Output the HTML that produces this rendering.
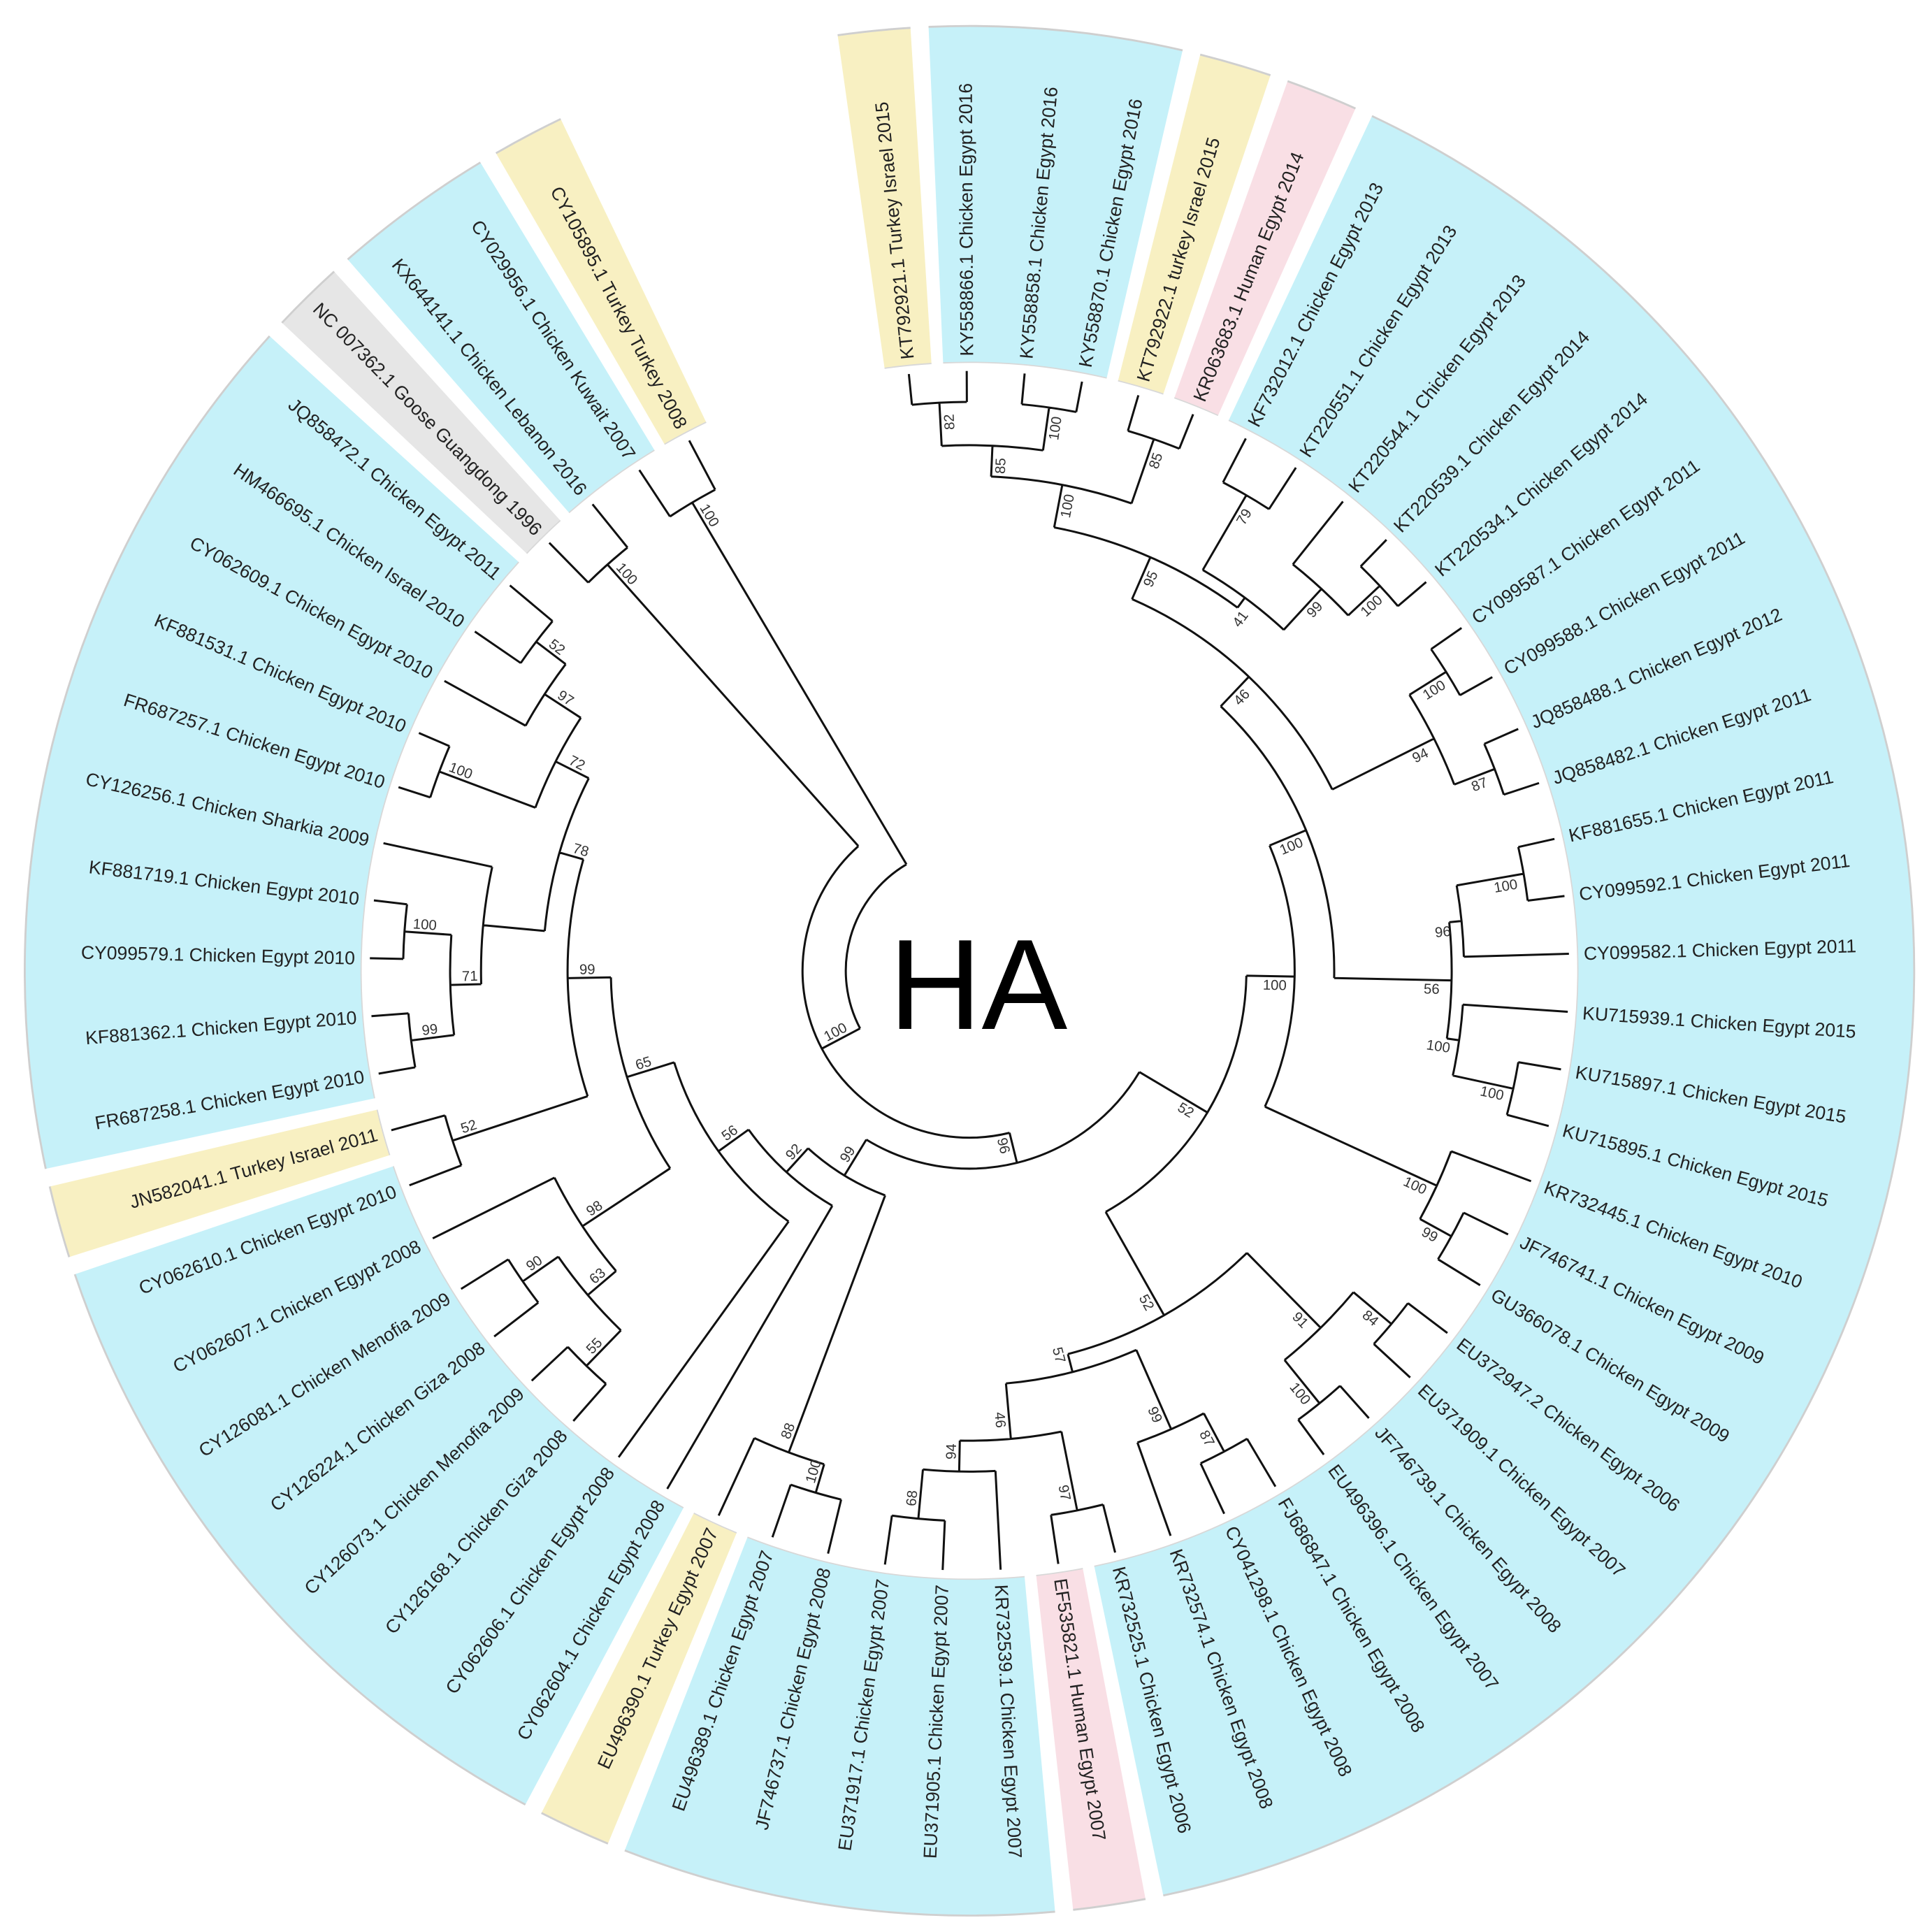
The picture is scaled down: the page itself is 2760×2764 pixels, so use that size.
<!DOCTYPE html>
<html><head><meta charset="utf-8"><style>
html,body{margin:0;padding:0;background:#fff;}
svg{display:block;}
.lf{font-family:"Liberation Sans",Arial,sans-serif;font-size:15px;fill:#222;}
.bs{font-family:"Liberation Sans",Arial,sans-serif;font-size:11.5px;fill:#333;}
.ha{font-family:"Liberation Sans",Arial,sans-serif;font-size:104px;fill:#000;}
</style></head><body>
<svg id="s" xmlns="http://www.w3.org/2000/svg" width="2760" height="2764" viewBox="0 0 1560 1562.3">
<rect x="0" y="0" width="1560" height="1562.3" fill="#fff"/>
<g id="bands"></g>
<path id="tree" fill="none" stroke="#111" stroke-width="1.7" d=""/>
<text class="ha" x="791" y="832" text-anchor="middle">HA</text>
<g id="leaves">
<text class="lf" id="l1">KT792921.1 Turkey Israel 2015</text>
<text class="lf" id="l2">KY558866.1 Chicken Egypt 2016</text>
<text class="lf" id="l3">KY558858.1 Chicken Egypt 2016</text>
<text class="lf" id="l4">KY558870.1 Chicken Egypt 2016</text>
<text class="lf" id="l5">KT792922.1 turkey Israel 2015</text>
<text class="lf" id="l6">KR063683.1 Human Egypt 2014</text>
<text class="lf" id="l7">KF732012.1 Chicken Egypt 2013</text>
<text class="lf" id="l8">KT220551.1 Chicken Egypt 2013</text>
<text class="lf" id="l9">KT220544.1 Chicken Egypt 2013</text>
<text class="lf" id="l10">KT220539.1 Chicken Egypt 2014</text>
<text class="lf" id="l11">KT220534.1 Chicken Egypt 2014</text>
<text class="lf" id="l12">CY099587.1 Chicken Egypt 2011</text>
<text class="lf" id="l13">CY099588.1 Chicken Egypt 2011</text>
<text class="lf" id="l14">JQ858488.1 Chicken Egypt 2012</text>
<text class="lf" id="l15">JQ858482.1 Chicken Egypt 2011</text>
<text class="lf" id="l16">KF881655.1 Chicken Egypt 2011</text>
<text class="lf" id="l17">CY099592.1 Chicken Egypt 2011</text>
<text class="lf" id="l18">CY099582.1 Chicken Egypt 2011</text>
<text class="lf" id="l19">KU715939.1 Chicken Egypt 2015</text>
<text class="lf" id="l20">KU715897.1 Chicken Egypt 2015</text>
<text class="lf" id="l21">KU715895.1 Chicken Egypt 2015</text>
<text class="lf" id="l22">KR732445.1 Chicken Egypt 2010</text>
<text class="lf" id="l23">JF746741.1 Chicken Egypt 2009</text>
<text class="lf" id="l24">GU366078.1 Chicken Egypt 2009</text>
<text class="lf" id="l25">EU372947.2 Chicken Egypt 2006</text>
<text class="lf" id="l26">EU371909.1 Chicken Egypt 2007</text>
<text class="lf" id="l27">JF746739.1 Chicken Egypt 2008</text>
<text class="lf" id="l28">EU496396.1 Chicken Egypt 2007</text>
<text class="lf" id="l29">FJ686847.1 Chicken Egypt 2008</text>
<text class="lf" id="l30">CY041298.1 Chicken Egypt 2008</text>
<text class="lf" id="l31">KR732574.1 Chicken Egypt 2008</text>
<text class="lf" id="l32">KR732525.1 Chicken Egypt 2006</text>
<text class="lf" id="l33">EF535821.1 Human Egypt 2007</text>
<text class="lf" id="l34">KR732539.1 Chicken Egypt 2007</text>
<text class="lf" id="l35">EU371905.1 Chicken Egypt 2007</text>
<text class="lf" id="l36">EU371917.1 Chicken Egypt 2007</text>
<text class="lf" id="l37">JF746737.1 Chicken Egypt 2008</text>
<text class="lf" id="l38">EU496389.1 Chicken Egypt 2007</text>
<text class="lf" id="l39">EU496390.1 Turkey Egypt 2007</text>
<text class="lf" id="l40">CY062604.1 Chicken Egypt 2008</text>
<text class="lf" id="l41">CY062606.1 Chicken Egypt 2008</text>
<text class="lf" id="l42">CY126168.1 Chicken Giza 2008</text>
<text class="lf" id="l43">CY126073.1 Chicken Menofia 2009</text>
<text class="lf" id="l44">CY126224.1 Chicken Giza 2008</text>
<text class="lf" id="l45">CY126081.1 Chicken Menofia 2009</text>
<text class="lf" id="l46">CY062607.1 Chicken Egypt 2008</text>
<text class="lf" id="l47">CY062610.1 Chicken Egypt 2010</text>
<text class="lf" id="l48">JN582041.1 Turkey Israel 2011</text>
<text class="lf" id="l49">FR687258.1 Chicken Egypt 2010</text>
<text class="lf" id="l50">KF881362.1 Chicken Egypt 2010</text>
<text class="lf" id="l51">CY099579.1 Chicken Egypt 2010</text>
<text class="lf" id="l52">KF881719.1 Chicken Egypt 2010</text>
<text class="lf" id="l53">CY126256.1 Chicken Sharkia 2009</text>
<text class="lf" id="l54">FR687257.1 Chicken Egypt 2010</text>
<text class="lf" id="l55">KF881531.1 Chicken Egypt 2010</text>
<text class="lf" id="l56">CY062609.1 Chicken Egypt 2010</text>
<text class="lf" id="l57">HM466695.1 Chicken Israel 2010</text>
<text class="lf" id="l58">JQ858472.1 Chicken Egypt 2011</text>
<text class="lf" id="l59">NC 007362.1 Goose Guangdong 1996</text>
<text class="lf" id="l60">KX644141.1 Chicken Lebanon 2016</text>
<text class="lf" id="l61">CY029956.1 Chicken Kuwait 2007</text>
<text class="lf" id="l62">CY105895.1 Turkey Turkey 2008</text>
</g>
<g id="boots">
<text class="bs" id="b1">100</text><text class="bs" id="b2">100</text><text class="bs" id="b3">100</text>
<text class="bs" id="b4">96</text><text class="bs" id="b5">99</text><text class="bs" id="b6">88</text>
<text class="bs" id="b7">100</text><text class="bs" id="b8">92</text><text class="bs" id="b9">56</text>
<text class="bs" id="b10">65</text><text class="bs" id="b11">98</text><text class="bs" id="b12">63</text>
<text class="bs" id="b13">55</text><text class="bs" id="b14">90</text><text class="bs" id="b15">99</text>
<text class="bs" id="b16">52</text><text class="bs" id="b17">78</text><text class="bs" id="b18">71</text>
<text class="bs" id="b19">99</text><text class="bs" id="b20">100</text><text class="bs" id="b21">72</text>
<text class="bs" id="b22">100</text><text class="bs" id="b23">97</text><text class="bs" id="b24">52</text>
<text class="bs" id="b25">52</text><text class="bs" id="b26">100</text><text class="bs" id="b27">100</text>
<text class="bs" id="b28">46</text><text class="bs" id="b29">95</text><text class="bs" id="b30">100</text>
<text class="bs" id="b31">85</text><text class="bs" id="b32">82</text><text class="bs" id="b33">100</text>
<text class="bs" id="b34">85</text><text class="bs" id="b35">41</text><text class="bs" id="b36">79</text>
<text class="bs" id="b37">99</text><text class="bs" id="b38">100</text><text class="bs" id="b39">94</text>
<text class="bs" id="b40">100</text><text class="bs" id="b41">87</text><text class="bs" id="b42">56</text>
<text class="bs" id="b43">96</text><text class="bs" id="b44">100</text><text class="bs" id="b45">100</text>
<text class="bs" id="b46">100</text><text class="bs" id="b47">100</text><text class="bs" id="b48">99</text>
<text class="bs" id="b49">52</text><text class="bs" id="b50">91</text><text class="bs" id="b51">84</text>
<text class="bs" id="b52">100</text><text class="bs" id="b53">57</text><text class="bs" id="b54">99</text>
<text class="bs" id="b55">87</text><text class="bs" id="b56">46</text><text class="bs" id="b57">97</text>
<text class="bs" id="b58">94</text><text class="bs" id="b59">68</text>
</g>
</svg>
<script>
(function(){
var cx=784,cy=785,RI=492,RO=764,TIP=485,STEP=5.54,A0=-5.8;
function A(i){return A0+STEP*(i-1);}
function P(r,a){var t=a*Math.PI/180;return [cx+r*Math.sin(t),cy-r*Math.cos(t)];}
function f(p){return p[0].toFixed(2)+" "+p[1].toFixed(2);}
function L(n){return {leaf:n};}
function N(r,b){var c=Array.prototype.slice.call(arguments,2);return {r:r,b:b,c:c};}
var N68=N(445,59,L(35),L(36)), N94=N(405,58,L(34),N68), N97b=N(445,57,L(32),L(33));
var N46b=N(380,56,N97b,N94), N87=N(440,55,L(29),L(30)), N99r=N(405,54,N87,L(31));
var N57=N(335,53,N99r,N46b), N100e=N(450,52,L(27),L(28)), N84=N(445,51,L(25),L(26));
var N91=N(405,50,N84,N100e), L52n=N(320,49,N91,N57);
var N9923=N(445,48,L(23),L(24)), N100b=N(416,47,L(22),N9923);
var N100g=N(450,46,L(20),L(21)), N100f=N(400,45,L(19),N100g), N100h=N(455,44,L(16),L(17));
var N96=N(400,43,N100h,L(18)), N56r=N(390,42,N96,N100f);
var N87t=N(455,41,L(14),L(15)), N100i=N(455,40,L(12),L(13)), N94t=N(420,39,N100i,N87t);
var N100t=N(455,38,L(10),L(11)), N99t=N(420,37,L(9),N100t), N79=N(445,36,L(7),L(8));
var N41=N(375,35,N79,N99t), N85b=N(455,34,L(5),L(6)), N10034=N(460,33,L(3),L(4));
var N82=N(460,32,L(1),L(2)), N85a=N(425,31,N82,N10034), N100top=N(400,30,N85a,N85b);
var N95=N(365,29,N100top,N41), N46=N(328,28,N95,N94t), Nup=N(295,27,N46,N56r);
var N100a=N(263,26,Nup,N100b), R52=N(224,25,N100a,L52n);
var N52c=N(440,24,L(57),L(58)), N97=N(410,23,L(56),N52c), N100d=N(458,22,L(54),L(55));
var N72=N(375,21,N100d,N97), N100c=N(458,20,L(51),L(52)), N99b=N(455,19,L(49),L(50));
var N71=N(420,18,N99b,N100c), X=N(395,0,N71,L(53)), N78=N(345,17,X,N72);
var N52b=N(440,16,L(47),L(48)), N99L=N(325,15,N52b,N78);
var N90=N(440,14,L(44),L(45)), N55=N(445,13,L(42),L(43)), N63=N(405,12,N55,N90);
var N98=N(375,11,N63,L(46)), N65=N(290,10,N98,N99L), N56=N(250,9,L(41),N65);
var N92=N(220,8,L(40),N56), N10037=N(440,7,L(37),L(38)), N88=N(416,6,N10037,L(39));
var Left99=N(194,5,N88,N92), Z=N(160,4,Left99,R52);
var KT=N(440,3,L(61),L(62)), GL=N(440,2,L(59),L(60)), Y=N(135,1,GL,Z);
var root=N(100,0,Y,KT);
function lay(n){if(n.leaf){n.a=A(n.leaf);n.r=TIP;return;}
 n.c.forEach(lay);var as=n.c.map(function(c){return c.a;});
 n.mn=Math.min.apply(null,as);n.mx=Math.max.apply(null,as);n.a=(n.mn+n.mx)/2;}
lay(root);
var d="";
function draw(n,pr){
 if(pr!=null){d+="M"+f(P(pr,n.a))+" L"+f(P(n.r,n.a))+" ";}
 if(n.leaf)return;
 d+="M"+f(P(n.r,n.mn))+" A"+n.r+" "+n.r+" 0 "+((n.mx-n.mn)>180?1:0)+" 1 "+f(P(n.r,n.mx))+" ";
 n.c.forEach(function(c){draw(c,n.r);});
 if(n.b){var el=document.getElementById("b"+n.b);
  if(el){var rr=n.r-16,p=P(rr,n.a),t=n.a*Math.PI/180,o=7;
   var x=p[0]+o*Math.cos(t),y=p[1]+o*Math.sin(t);
   var rot=(n.a<180)?n.a-90:n.a+90;
   el.setAttribute("x",0);el.setAttribute("y",0);el.setAttribute("text-anchor","middle");
   el.setAttribute("dy","0.35em");
   el.setAttribute("transform","translate("+x.toFixed(2)+" "+y.toFixed(2)+") rotate("+rot.toFixed(2)+")");}}
}
draw(root,null);
document.getElementById("tree").setAttribute("d",d);
for(var i=1;i<=62;i++){var el=document.getElementById("l"+i);var a=A(i);var p=P(497,a);
 var rot,anc; if(a<180){rot=a-90;anc="start";}else{rot=a+90;anc="end";}
 el.setAttribute("x",0);el.setAttribute("y",0);el.setAttribute("dy","0.35em");el.setAttribute("text-anchor",anc);
 el.setAttribute("transform","translate("+p[0].toFixed(2)+" "+p[1].toFixed(2)+") rotate("+rot.toFixed(2)+")");}
var groups=[[1,1,"#f8f0c2"],[2,4,"#c6f1f9"],[5,5,"#f8f0c2"],[6,6,"#f9dfe5"],[7,32,"#c6f1f9"],
 [33,33,"#f9dfe5"],[34,38,"#c6f1f9"],[39,39,"#f8f0c2"],[40,47,"#c6f1f9"],[48,48,"#f8f0c2"],
 [49,58,"#c6f1f9"],[59,59,"#e6e6e6"],[60,61,"#c6f1f9"],[62,62,"#f8f0c2"]];
var g=document.getElementById("bands"),ns="http://www.w3.org/2000/svg",h=STEP/2,gap=0.55;
groups.forEach(function(G){var a1=A(G[0])-h+gap,a2=A(G[1])+h-gap,lg=(a2-a1)>180?1:0;
 var pd="M"+f(P(RI,a1))+" L"+f(P(RO,a1))+" A"+RO+" "+RO+" 0 "+lg+" 1 "+f(P(RO,a2))+" L"+f(P(RI,a2))+" A"+RI+" "+RI+" 0 "+lg+" 0 "+f(P(RI,a1))+" Z";
 var e=document.createElementNS(ns,"path");e.setAttribute("d",pd);e.setAttribute("fill",G[2]);g.appendChild(e);
 var o=document.createElementNS(ns,"path");o.setAttribute("d","M"+f(P(RO,a1))+" A"+RO+" "+RO+" 0 "+lg+" 1 "+f(P(RO,a2)));
 o.setAttribute("fill","none");o.setAttribute("stroke","#cfcfcf");o.setAttribute("stroke-width","1.6");g.appendChild(o);
 var q=document.createElementNS(ns,"path");q.setAttribute("d","M"+f(P(RI,a1))+" A"+RI+" "+RI+" 0 "+lg+" 1 "+f(P(RI,a2)));
 q.setAttribute("fill","none");q.setAttribute("stroke","#d8d8d8");q.setAttribute("stroke-width","1");g.appendChild(q);
});
})();
</script>
</body></html>
